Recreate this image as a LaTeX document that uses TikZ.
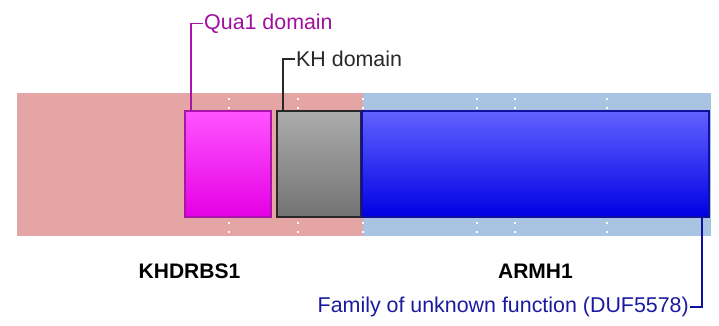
\documentclass[tikz,border=0pt]{standalone}
\usepackage{fontspec}
\setmainfont{Liberation Sans}
\setsansfont{Liberation Sans}
\usepackage{tikz}
\usetikzlibrary{calc}
\definecolor{bandpink}{RGB}{229,165,165}
\definecolor{bandblue}{RGB}{168,196,226}
\definecolor{quatop}{RGB}{255,85,255}
\definecolor{quabot}{RGB}{228,0,228}
\definecolor{quaedge}{RGB}{170,20,170}
\definecolor{quatext}{RGB}{160,16,160}
\definecolor{khtop}{RGB}{172,172,172}
\definecolor{khbot}{RGB}{115,115,115}
\definecolor{khedge}{RGB}{40,40,40}
\definecolor{duftop}{RGB}{98,98,255}
\definecolor{dufbot}{RGB}{0,0,228}
\definecolor{dufedge}{RGB}{16,16,160}
\definecolor{duftext}{RGB}{26,26,160}
\tikzset{
  base/.style={font=\sffamily\fontsize{21.4}{25}\selectfont, inner sep=1pt},
  band/.style={rectangle, inner sep=0pt, minimum height=143pt},
  dom/.style={rectangle, inner sep=0pt, minimum height=106pt, line width=1.6pt},
  lead/.style={line width=1.8pt},
  lbl/.style={base},
  gene/.style={base, font=\sffamily\bfseries\fontsize{21}{25}\selectfont, text=black},
  tick/.style={fill=white, minimum size=2pt, inner sep=0pt},
}
\begin{document}
\begin{tikzpicture}[x=1pt,y=-1pt]
  \useasboundingbox (0,0) rectangle (719,326);
  % gene bands
  \node[band, fill=bandpink, minimum width=346pt] (khdrbs) at (190,164.5) {};
  \node[band, fill=bandblue, minimum width=348pt] (armh) at (537,164.5) {};
  % ticks
  \foreach \x in {229,298,363,477,515,607}{
    \foreach \y in {99,108,223,232}{\node[tick] at (\x,\y) {};}
  }
  % domains
  \node[dom, top color=quatop, bottom color=quabot, draw=quaedge, minimum width=86pt] (qua) at (228,164) {};
  \node[dom, top color=khtop, bottom color=khbot, draw=khedge, minimum width=84pt] (kh) at (319,164) {};
  \node[dom, top color=duftop, bottom color=dufbot, draw=dufedge, minimum width=347pt] (duf) at (535.5,164) {};
  % domain labels
  \node[lbl, text=quatext, anchor=west] (qual) at (203,23.5) {Qua1 domain};
  \node[lbl, text=khedge, anchor=west] (khl) at (295,59) {KH domain};
  \node[lbl, text=duftext, anchor=east] (dufl) at (690,307) {Family of unknown function (DUF5578)};
  \draw[lead, draw=quaedge] ([xshift=7pt]qua.north west) |- (qual.west);
  \draw[lead, draw=khedge] ([xshift=7pt]kh.north west) |- (khl.west);
  \draw[lead, draw=dufedge] ([xshift=-8pt]duf.south east) |- (dufl.east);
  % gene names
  \node[gene] (khdrbsl) at (189.5,271) {KHDRBS1};
  \node[gene] (armhl) at (535.5,271) {ARMH1};
\end{tikzpicture}
\end{document}
